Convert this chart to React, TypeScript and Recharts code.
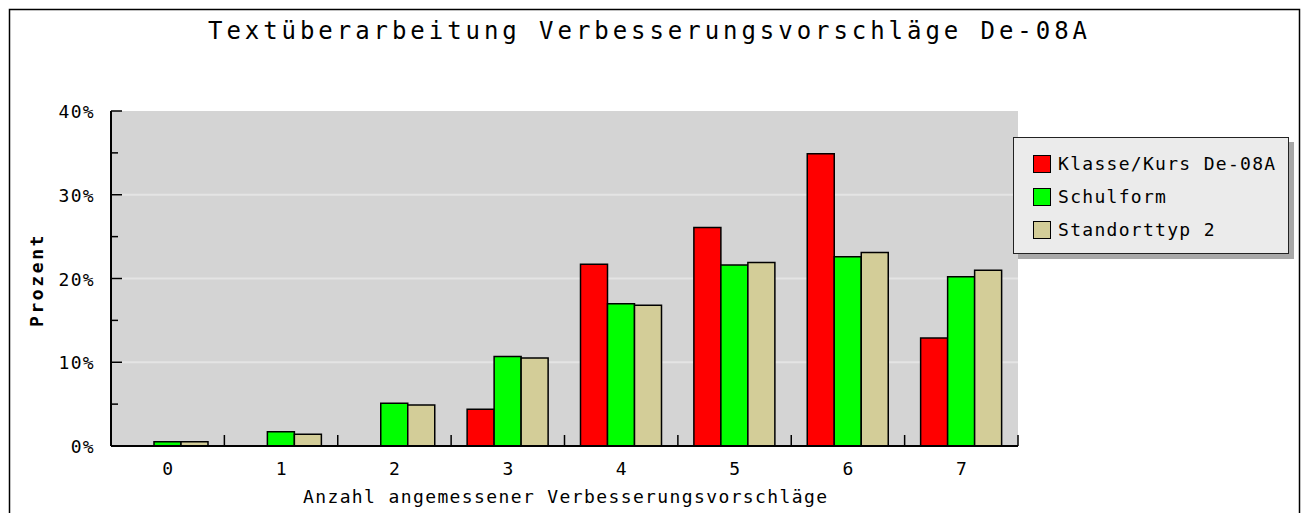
import React from 'react';
import { BarChart, Bar, XAxis, YAxis, CartesianGrid, Legend } from 'recharts';

const categories = ['0', '1', '2', '3', '4', '5', '6', '7'];
const klasseValues = [0, 0, 0, 4.4, 21.7, 26.1, 34.9, 12.9];
const schulformValues = [0.5, 1.7, 5.1, 10.7, 17.0, 21.6, 22.6, 20.2];
const standortValues = [0.5, 1.4, 4.9, 10.5, 16.8, 21.9, 23.1, 21.0];
const yTicks = [0, 5, 10, 15, 20, 25, 30, 35, 40];
const gridValues = [10, 20, 30];
const seriesKeys = ['klasse', 'schulform', 'standort'];
const seriesNames = ['Klasse/Kurs De-08A', 'Schulform', 'Standorttyp 2'];
const seriesColors = ['#ff0000', '#00ff00', '#d3cd98'];
const title = 'Textüberarbeitung Verbesserungsvorschläge De-08A';
const xTitle = 'Anzahl angemessener Verbesserungsvorschläge';
const yTitle = 'Prozent';

const data = categories.map((c, i) => ({
  name: c,
  klasse: klasseValues[i],
  schulform: schulformValues[i],
  standort: standortValues[i],
}));

const W = 1303;
const H = 513;
const PLOT_LEFT = 111;
const PLOT_RIGHT = 1018;
const PLOT_TOP = 111;
const PLOT_BOTTOM = 446;
const STEP = (PLOT_RIGHT - PLOT_LEFT) / categories.length;
const FONT = '"DejaVu Sans Mono", "Liberation Mono", monospace';

const YTick = (props: any) => {
  const { y, payload } = props;
  const v = payload.value;
  const major = v % 10 === 0;
  return (
    <g>
      <line x1={PLOT_LEFT} x2={PLOT_LEFT + (major ? 11 : 7)} y1={y} y2={y} stroke="#000" strokeWidth={1.5} />
      {major && (
        <text x={PLOT_LEFT - 16} y={y + 7} textAnchor="end" fontFamily={FONT} fontSize={18} letterSpacing={1.3} fill="#000">
          {v}%
        </text>
      )}
    </g>
  );
};

const XTick = (props: any) => {
  const { x, payload } = props;
  return (
    <g>
      <line x1={x + STEP / 2} x2={x + STEP / 2} y1={PLOT_BOTTOM} y2={PLOT_BOTTOM - 11} stroke="#000" strokeWidth={1.5} />
      <text x={x} y={PLOT_BOTTOM + 29} textAnchor="middle" fontFamily={FONT} fontSize={18} fill="#000">
        {payload.value}
      </text>
    </g>
  );
};

const LegendBox = () => (
  <div
    style={{
      position: 'relative',
      width: 274,
      height: 115,
      background: '#ebebeb',
      border: '1px solid #222',
      boxShadow: '5px 5px 0 #a8a8a8',
      fontFamily: FONT,
      fontSize: 18,
      color: '#000',
    }}
  >
    {seriesNames.map((n, i) => (
      <div key={n} style={{ position: 'absolute', left: 19, top: 16 + i * 33, height: 19, display: 'flex', alignItems: 'center' }}>
        <div style={{ width: 16, height: 16, background: seriesColors[i], border: '1px solid #000' }} />
        <span style={{ marginLeft: 7, letterSpacing: 1.3, whiteSpace: 'nowrap', lineHeight: '19px' }}>{n}</span>
      </div>
    ))}
  </div>
);

export default function App() {
  return (
    <div style={{ position: 'absolute', left: 0, top: 0, width: W, height: H, background: '#fff', overflow: 'hidden' }}>
      <BarChart
        width={W}
        height={H}
        data={data}
        margin={{ top: PLOT_TOP, right: W - PLOT_RIGHT, bottom: 0, left: PLOT_LEFT - 60 }}
        barGap={0}
      >
        <CartesianGrid
          vertical={false}
          horizontalValues={gridValues}
          stroke="#e4e4e4"
          strokeWidth={2}
          fill="#d4d4d4"
          fillOpacity={1}
        />
        <XAxis
          dataKey="name"
          height={H - PLOT_BOTTOM}
          tickLine={false}
          axisLine={{ stroke: '#000', strokeWidth: 2 }}
          tick={<XTick />}
          interval={0}
        />
        <YAxis
          width={60}
          domain={[0, 40]}
          ticks={yTicks}
          interval={0}
          tickLine={false}
          axisLine={{ stroke: '#000', strokeWidth: 2 }}
          tick={<YTick />}
        />
        <Legend
          layout="vertical"
          align="center"
          verticalAlign="middle"
          wrapperStyle={{ left: 1013, top: 137, width: 276, height: 117 }}
          content={<LegendBox />}
        />
        {seriesKeys.map((k, i) => (
          <Bar
            key={k}
            dataKey={k}
            name={seriesNames[i]}
            fill={seriesColors[i]}
            stroke="#000"
            strokeWidth={1.5}
            barSize={27}
            isAnimationActive={false}
          />
        ))}
      </BarChart>
      <svg width={W} height={H} style={{ position: 'absolute', left: 0, top: 0, pointerEvents: 'none' }}>
        <rect x={9.5} y={9.5} width={1290} height={H} fill="none" stroke="#000" strokeWidth={1.5} />
        <text x={208} y={39} textLength={879} lengthAdjust="spacing" fontFamily={FONT} fontSize={24} fill="#000">
          {title}
        </text>
        <text x={303} y={503} textLength={524} lengthAdjust="spacing" fontFamily={FONT} fontSize={18} fill="#000">
          {xTitle}
        </text>
        <text
          transform="translate(43,280) rotate(-90)"
          x={0}
          y={0}
          textAnchor="middle"
          fontFamily={FONT}
          fontWeight="bold"
          fontSize={18}
          letterSpacing={2.6}
          fill="#000"
        >
          {yTitle}
        </text>
      </svg>
    </div>
  );
}
